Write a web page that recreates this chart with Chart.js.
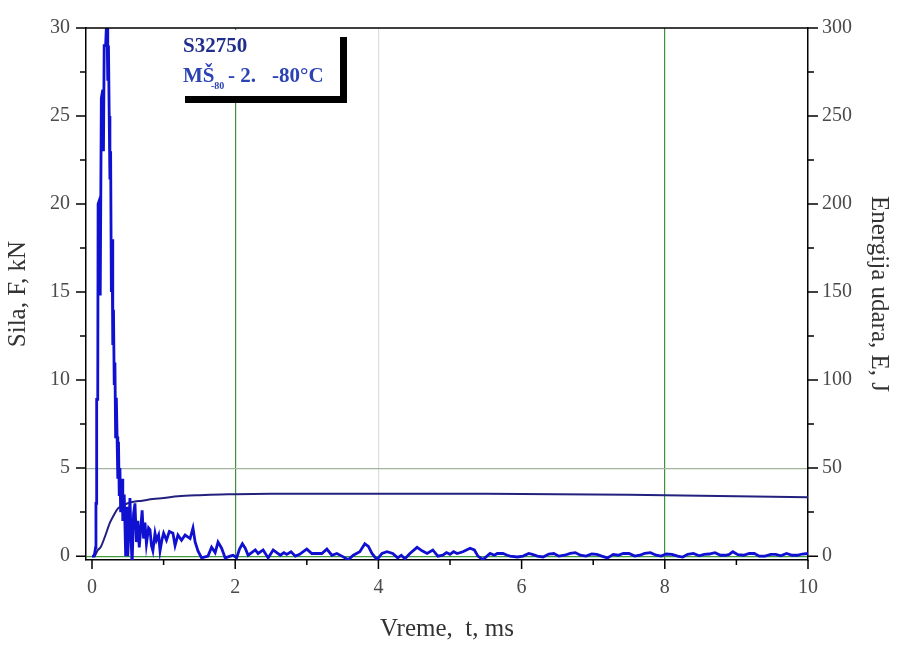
<!DOCTYPE html>
<html>
<head>
<meta charset="utf-8">
<script src="https://cdn.jsdelivr.net/npm/chart.js@4.4.1/dist/chart.umd.min.js"></script>
<style>
  body { margin: 0; background: #fff; }
  #wrap { width: 898px; height: 646px; position: relative; }
</style>
</head>
<body>
<div id="wrap"><canvas id="graf"></canvas></div>
<script>
// vreme, ms / sila, kN
const forceT = [0, 0.03, 0.05, 0.055, 0.06, 0.065, 0.08, 0.085, 0.11, 0.115, 0.125, 0.13, 0.15, 0.16, 0.17, 0.19, 0.2, 0.21,
  0.22, 0.23, 0.24, 0.25, 0.26, 0.27, 0.28, 0.29, 0.3, 0.31, 0.32, 0.33, 0.34, 0.35, 0.36, 0.37, 0.38, 0.39, 0.4,
  0.42, 0.43, 0.45, 0.47, 0.49, 0.5, 0.53, 0.55, 0.56, 0.58, 0.6, 0.62, 0.64, 0.66, 0.7, 0.72, 0.74, 0.76, 0.79,
  0.81, 0.83, 0.85, 0.88, 0.9, 0.93, 0.95, 0.98, 1.0, 1.04, 1.08, 1.13, 1.16, 1.2, 1.25, 1.3, 1.37, 1.41, 1.44,
  1.48, 1.53, 1.62, 1.67, 1.72, 1.76, 1.81, 1.86, 1.93, 1.97, 2.02, 2.06, 2.1, 2.14, 2.18, 2.23, 2.28, 2.32, 2.39,
  2.46, 2.53, 2.58, 2.63, 2.68, 2.72, 2.78, 2.84, 2.9, 2.95, 3.0, 3.07, 3.14, 3.21, 3.28, 3.35, 3.42, 3.49, 3.58,
  3.65, 3.74, 3.81, 3.86, 3.91, 3.98, 4.05, 4.12, 4.2, 4.27, 4.32, 4.37, 4.44, 4.54, 4.61, 4.68, 4.76, 4.83, 4.9,
  4.95, 5.0, 5.05, 5.1, 5.18, 5.28, 5.34, 5.39, 5.46, 5.56, 5.62, 5.66, 5.74, 5.8, 5.84, 5.94, 6.02, 6.1, 6.15,
  6.22, 6.3, 6.38, 6.45, 6.52, 6.6, 6.68, 6.75, 6.82, 6.9, 6.98, 7.05, 7.12, 7.2, 7.28, 7.35, 7.42, 7.5, 7.58,
  7.65, 7.72, 7.8, 7.88, 7.95, 8.02, 8.1, 8.18, 8.25, 8.32, 8.4, 8.48, 8.55, 8.62, 8.7, 8.78, 8.85, 8.9, 8.95,
  9.02, 9.1, 9.18, 9.25, 9.32, 9.4, 9.48, 9.55, 9.62, 9.7, 9.78, 9.85, 9.92, 10];
const forceF = [0, 0, 0.5, 3.0, 3.0, 8.9, 8.9, 20, 20.3, 14.8, 14.8, 26, 26.5, 23, 29, 29, 30, 30,
  27, 29, 25, 21.4, 23, 15, 18, 12, 14, 9.8, 11, 6.7, 9, 6.8, 4.4, 6.5, 3.5, 5, 2.5,
  4.4, 2.0, 3.5, 0, 2.8, 0, 3.3, 0.5, -0.5, 2.4, 3.0, 0.8, 2.0, 0.5, 2.6, 1.0, 1.9, 0.7, 1.6,
  1.5, 0.6, 0.3, 1.3, 0.9, 1.2, 0.3, 1.0, 1.3, 0.9, 1.4, 1.3, 0.6, 1.2, 0.9, 1.2, 1.0, 1.6, 0.8,
  0.3, -0.1, 0, 0.5, 0.2, 0.8, 0.45, -0.1, 0, 0.05, -0.1, 0.4, 0.7, 0.45, 0.05, 0.2, 0.35, 0.15, 0.35,
  -0.1, 0.35, 0.2, 0.05, 0.2, 0.1, 0.25, 0, 0.1, 0.25, 0.4, 0.15, 0.15, 0.15, 0.4, 0.05, 0.15, 0, -0.2,
  0.05, 0.25, 0.7, 0.55, 0.15, -0.2, 0.15, 0.25, 0.15, -0.1, 0.05, -0.15, 0.15, 0.5, 0.3, 0.15, 0.35, 0, 0.05,
  0.2, 0.1, 0.25, 0.15, 0.25, 0.45, 0.35, 0, -0.2, 0.15, 0.05, 0.15, 0.15, 0.05, 0, -0.05, 0, 0.15, 0.1,
  0.0, -0.05, 0.12, 0.15, 0.0, 0.05, 0.15, 0.2, 0.05, 0, 0.12, 0.1, 0.0, -0.1, 0.1, 0.05, 0.15, 0.15, 0.0,
  0.05, 0.15, 0.2, 0.05, 0, 0.12, 0.1, 0.0, -0.05, 0.1, 0.15, 0.02, 0.1, 0.12, 0.2, 0.05, 0.05, 0.1, 0.25,
  0.08, 0.05, 0.15, 0.15, 0.0, 0.0, 0.1, 0.1, 0.02, 0.15, 0.05, 0.05, 0.12, 0.15];

// vreme, ms / energija, J
const energyT = [0, 0.04, 0.08, 0.12, 0.18, 0.25, 0.3, 0.36, 0.42, 0.5, 0.6, 0.7, 0.85, 1.0, 1.2, 1.5, 1.8, 2.0,
  2.5, 3, 4, 5, 6, 7, 8, 9, 10];
const energyE = [0, 0.3, 3.4, 5, 11, 19, 23, 27, 28.5, 30, 31, 31.5, 32.5, 33, 34, 34.6, 35, 35.2,
  35.4, 35.5, 35.4, 35.4, 35.3, 35.0, 34.6, 34.0, 33.4];

const xTicks = [0, 1, 2, 3, 4, 5, 6, 7, 8, 9, 10];
const yTicks = [0, 2.5, 5, 7.5, 10, 12.5, 15, 17.5, 20, 22.5, 25, 27.5, 30];
const y2Ticks = [0, 25, 50, 75, 100, 125, 150, 175, 200, 225, 250, 275, 300];

const serif = "'Liberation Serif', 'Times New Roman', serif";
const tickFont = { family: serif, size: 20 };
const titleFont = { family: serif, size: 25 };

// okvir, crtice i natpis
const frame = {
  id: 'frame',
  afterDraw(chart) {
    const { ctx, chartArea: a, scales } = chart;
    ctx.save();
    ctx.strokeStyle = '#000';
    ctx.lineWidth = 1.5;
    ctx.beginPath();
    ctx.moveTo(a.left, a.top);
    ctx.lineTo(a.right, a.top);
    xTicks.forEach(v => {
      const px = scales.x.getPixelForValue(v);
      ctx.moveTo(px, a.bottom);
      ctx.lineTo(px, a.bottom + (v % 2 === 0 ? 9 : 5));
    });
    yTicks.forEach(v => {
      const py = scales.y.getPixelForValue(v);
      ctx.moveTo(a.left, py);
      ctx.lineTo(a.left - (v % 5 === 0 ? 10 : 6), py);
    });
    y2Ticks.forEach(v => {
      const py = scales.y2.getPixelForValue(v);
      ctx.moveTo(a.right, py);
      ctx.lineTo(a.right + (v % 50 === 0 ? 10 : 6), py);
    });
    ctx.stroke();

    // natpis sa senkom
    ctx.fillStyle = '#000';
    ctx.fillRect(185, 37, 162, 66);
    ctx.fillStyle = '#fff';
    ctx.fillRect(178, 30, 162, 66);
    ctx.textBaseline = 'alphabetic';
    ctx.textAlign = 'left';
    ctx.fillStyle = '#1f2d8c';
    ctx.font = `bold 21px ${serif}`;
    ctx.fillText('S32750', 183, 52);
    ctx.fillStyle = '#2b43b3';
    ctx.font = `bold 21px ${serif}`;
    ctx.fillText('MŠ', 183, 82);
    ctx.font = `bold 10px ${serif}`;
    ctx.fillText('-80', 211, 89);
    ctx.font = `bold 21px ${serif}`;
    ctx.fillText('- 2.', 228, 82);
    ctx.fillText('-80°C', 272, 82);
    ctx.restore();
  }
};

new Chart(document.getElementById('graf'), {
  type: 'line',
  data: {
    datasets: [
      {
        label: 'Sila',
        data: forceT.map((t, i) => ({ x: t, y: forceF[i] })),
        yAxisID: 'y',
        borderColor: '#1010d0',
        borderWidth: 2.8,
        pointRadius: 0,
        tension: 0
      },
      {
        label: 'Energija',
        data: energyT.map((t, i) => ({ x: t, y: energyE[i] })),
        yAxisID: 'y2',
        borderColor: '#22227e',
        borderWidth: 2,
        pointRadius: 0,
        tension: 0.3
      }
    ]
  },
  options: {
    responsive: true,
    maintainAspectRatio: false,
    devicePixelRatio: 1,
    animation: false,
    layout: { padding: { top: 22, left: 0, right: 0, bottom: 0 } },
    plugins: { legend: { display: false }, tooltip: { enabled: false } },
    scales: {
      x: {
        type: 'linear',
        min: -0.084,
        max: 10,
        afterBuildTicks: s => { s.ticks = xTicks.map(v => ({ value: v })); },
        afterFit: s => { s.height = 86; },
        border: { color: '#000', width: 1.5 },
        grid: {
          drawTicks: false,
          color: c => c.tick && (c.tick.value === 2 || c.tick.value === 8) ? '#3f8f3f'
            : c.tick && c.tick.value === 4 ? '#dcdfd6' : 'rgba(0,0,0,0)',
          lineWidth: 1.2
        },
        ticks: {
          autoSkip: false, maxRotation: 0, padding: 16, color: '#4a4a4a', font: tickFont,
          callback: v => (v % 2 === 0 ? v : '')
        },
        title: { display: true, text: 'Vreme,  t, ms', color: '#333', font: titleFont, padding: { top: 4, bottom: 2 } }
      },
      y: {
        type: 'linear',
        position: 'left',
        min: -0.22,
        max: 30,
        afterBuildTicks: s => { s.ticks = yTicks.map(v => ({ value: v })); },
        afterFit: s => { s.width = 86; },
        border: { color: '#000', width: 1.5 },
        grid: {
          drawTicks: false,
          color: c => c.tick && c.tick.value === 0 ? '#3f9a3f'
            : c.tick && c.tick.value === 5 ? '#a3b59f' : 'rgba(0,0,0,0)',
          lineWidth: 1.2
        },
        ticks: {
          autoSkip: false, padding: 16, color: '#4a4a4a', font: tickFont,
          callback: v => (v % 5 === 0 ? v : '')
        },
        title: { display: true, text: 'Sila, F, kN', color: '#333', font: titleFont, padding: { top: 3, bottom: 4 } }
      },
      y2: {
        type: 'linear',
        position: 'right',
        min: -2.2,
        max: 300,
        afterBuildTicks: s => { s.ticks = y2Ticks.map(v => ({ value: v })); },
        afterFit: s => { s.width = 90; },
        border: { color: '#000', width: 1.5 },
        grid: { display: false, drawTicks: false },
        ticks: {
          autoSkip: false, padding: 14, color: '#4a4a4a', font: tickFont,
          callback: v => (v % 50 === 0 ? v : '')
        },
        title: { display: true, text: 'Energija udara, E, J', color: '#333', font: titleFont, padding: { top: 4, bottom: 4 } }
      }
    }
  },
  plugins: [frame]
});
</script>
</body>
</html>
